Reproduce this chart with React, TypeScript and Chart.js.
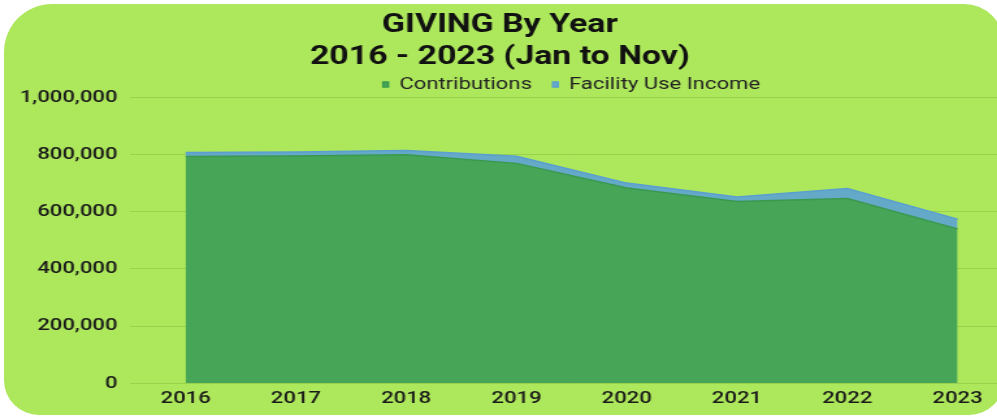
import React, { useEffect, useRef } from "react";
import { Chart, registerables } from "chart.js";

Chart.register(...registerables);

// ---- data ----
const years = ["2016", "2017", "2018", "2019", "2020", "2021", "2022", "2023"];
const contributions = [793000, 795000, 799000, 769000, 683000, 636000, 646000, 540000];
const facilityUseIncome = [14000, 14000, 15000, 25000, 17000, 15000, 35000, 34000];
const titleLines = ["GIVING By Year", "2016 - 2023 (Jan to Nov)"];
const yMin = 0;
const yMax = 1000000;
const yStep = 200000;

// horizontal stretch of the whole picture
const STRETCH = 1.3;
const CANVAS_W = 780;
const CANVAS_H = 416;

export default function App() {
  const ref = useRef<HTMLCanvasElement>(null);

  useEffect(() => {
    const labelFont = { family: "Roboto", size: 17, weight: "500" as const };
    const chart = new Chart(ref.current as HTMLCanvasElement, {
      type: "line",
      data: {
        labels: years,
        datasets: [
          {
            label: "Contributions",
            data: contributions,
            fill: "origin",
            backgroundColor: "#46a557",
            borderColor: "#3a994f",
            borderWidth: 1.5,
            pointRadius: 0,
            tension: 0,
          },
          {
            label: "Facility Use Income",
            data: facilityUseIncome,
            fill: "-1",
            backgroundColor: "#64a9c8",
            borderColor: "#5a9fd0",
            borderWidth: 1.5,
            pointRadius: 0,
            tension: 0,
          },
        ],
      },
      options: {
        animation: false,
        responsive: true,
        maintainAspectRatio: false,
        events: [],
        layout: { padding: { left: -10, right: 1, top: 0, bottom: 0 } },
        plugins: {
          title: {
            display: true,
            text: titleLines,
            color: "#111111",
            font: { family: "Roboto", size: 26, weight: "bold", lineHeight: 1.25 },
            padding: { top: 9, bottom: -14 },
          },
          legend: {
            display: true,
            position: "top",
            fullSize: false,
            maxHeight: 37.3,
            labels: {
              color: "#222222",
              font: { family: "Roboto", size: 17 },
              boxWidth: 4,
              boxHeight: 5,
              padding: 16,
            },
          },
          tooltip: { enabled: false },
        },
        scales: {
          x: {
            type: "category",
            offset: true,
            grid: { display: false, drawTicks: false },
            border: { display: false },
            ticks: {
              color: "#1a1a1a",
              font: labelFont,
              padding: 5,
              maxRotation: 0,
              autoSkip: false,
            },
            afterFit: (s: any) => {
              s.height = 32.7;
            },
          },
          y: {
            stacked: true,
            min: yMin,
            max: yMax,
            z: 1,
            grid: { color: "rgba(0,60,0,0.12)", drawTicks: false, lineWidth: 1 },
            border: { display: false },
            ticks: {
              stepSize: yStep,
              color: "#1a1a1a",
              font: labelFont,
              padding: 10,
              callback: (v: any) => Number(v).toLocaleString("en-US"),
            },
            afterFit: (s: any) => {
              s.width = 110.4;
            },
          },
        },
      },
    });
    return () => chart.destroy();
  }, []);

  return (
    <div
      style={{
        position: "fixed",
        left: 0,
        top: 0,
        width: 997,
        height: 416,
        overflow: "hidden",
        background: "#ffffff",
      }}
    >
      <div
        style={{
          position: "absolute",
          left: 4,
          top: 4,
          width: 1000,
          height: 411,
          borderRadius: "48px 40px 35px 35px",
          background: "#ade75b",
        }}
      />
      <div
        style={{
          position: "absolute",
          left: 0,
          top: 0,
          width: CANVAS_W,
          height: CANVAS_H,
          transform: `scaleX(${STRETCH})`,
          transformOrigin: "0 0",
        }}
      >
        <canvas ref={ref} />
      </div>
    </div>
  );
}
